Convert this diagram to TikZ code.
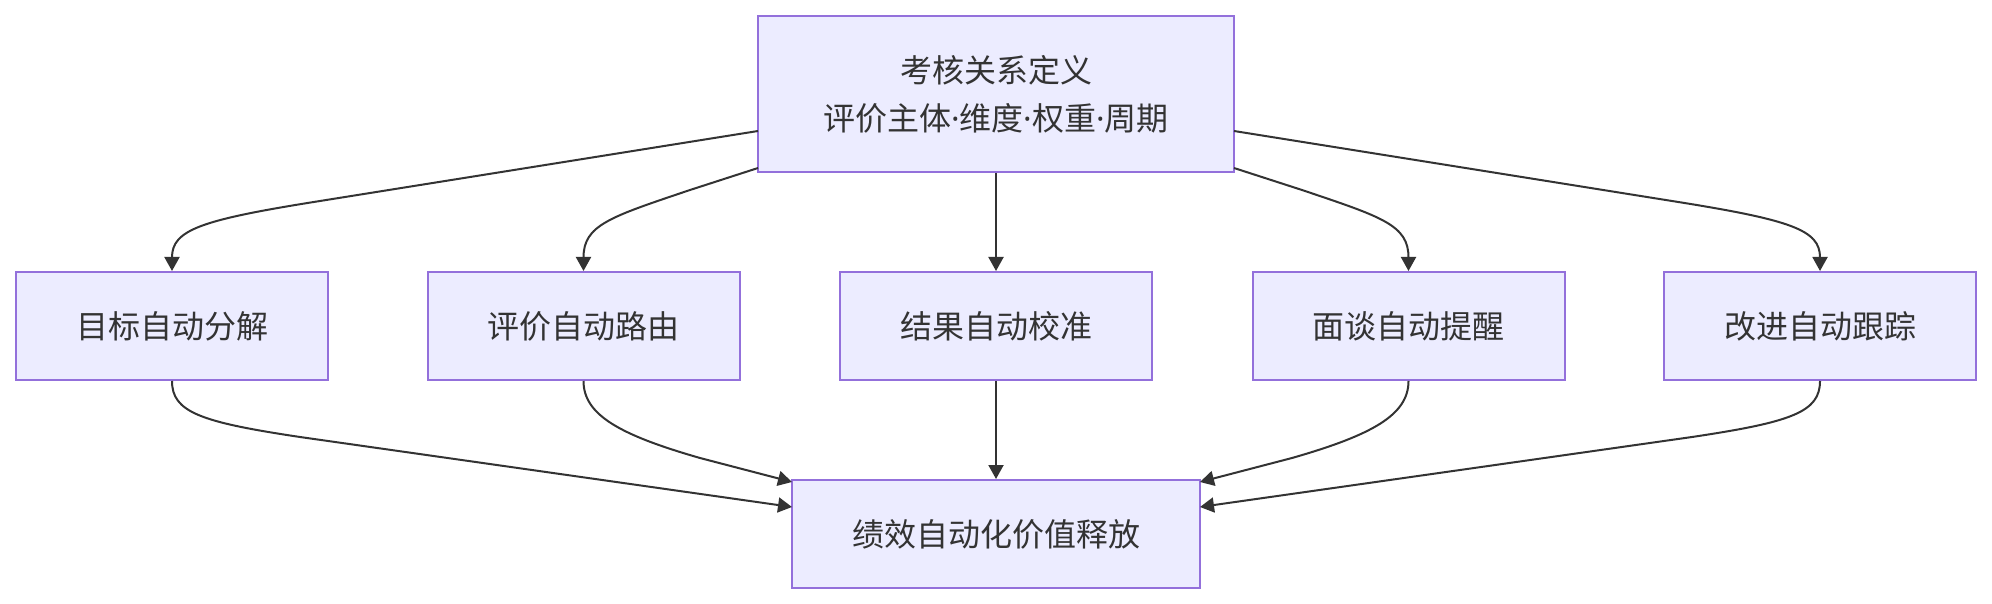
\documentclass[tikz,border=0pt]{standalone}
\usepackage{fontspec}
\setmainfont{Noto Sans CJK SC}
\newfontfamily\latinfont{Noto Sans}
\newcommand{\mdot}{{\latinfont ·}}
\usetikzlibrary{arrows.meta,calc}
\definecolor{nodefill}{HTML}{ECECFF}
\definecolor{nodeline}{HTML}{9370DB}
\definecolor{edgecol}{HTML}{333333}
\definecolor{txt}{HTML}{333333}
\tikzset{
  box/.style={draw=nodeline, fill=nodefill, line width=1pt, text=txt, inner sep=0pt,
    font=\fontsize{16pt}{24pt}\selectfont, align=center},
  midbox/.style={box, minimum width=156pt, minimum height=54pt},
  conn/.style={draw=edgecol, line width=1pt, -{Triangle[length=7pt,width=7.5pt]}}
}
\begin{document}
\begin{tikzpicture}[x=0.5pt,y=-0.5pt]
\useasboundingbox (0,0) rectangle (1992,604);
\node[box, minimum width=238pt, minimum height=78pt] (top) at (996,94) {考核关系定义\\评价主体\mdot 维度\mdot 权重\mdot 周期};
\node[midbox] (n1) at (172,326) {目标自动分解};
\node[midbox] (n2) at (583.5,326) {评价自动路由};
\node[midbox] (n3) at (996,326) {结果自动校准};
\node[midbox] (n4) at (1408.5,326) {面谈自动提醒};
\node[midbox] (n5) at (1820,326) {改进自动跟踪};
\node[box, minimum width=204pt, minimum height=54pt] (bot) at (996,534) {绩效自动化价值释放};
% top to middle
\draw[conn] (758,131) -- (320,201) .. controls (200,220) and (172,230) .. (n1.north);
\draw[conn] (758,168) -- (690,190) .. controls (610,217) and (583.5,225) .. (n2.north);
\draw[conn] (top.south) -- (n3.north);
\draw[conn] (1234,168) -- (1302,190) .. controls (1382,217) and (1408.5,225) .. (n4.north);
\draw[conn] (1234,131) -- (1672,201) .. controls (1792,220) and (1820,230) .. (n5.north);
% middle to bottom
\draw[conn] (n1.south) .. controls (172,412) and (200,422) .. (300,437) -- (792,507);
\draw[conn] (n2.south) .. controls (583.5,415) and (620,435) .. (700,458) -- (792,482);
\draw[conn] (n3.south) -- (bot.north);
\draw[conn] (n4.south) .. controls (1408.5,415) and (1372,435) .. (1292,458) -- (1200,482);
\draw[conn] (n5.south) .. controls (1820,412) and (1792,422) .. (1692,437) -- (1200,507);
\end{tikzpicture}
\end{document}
